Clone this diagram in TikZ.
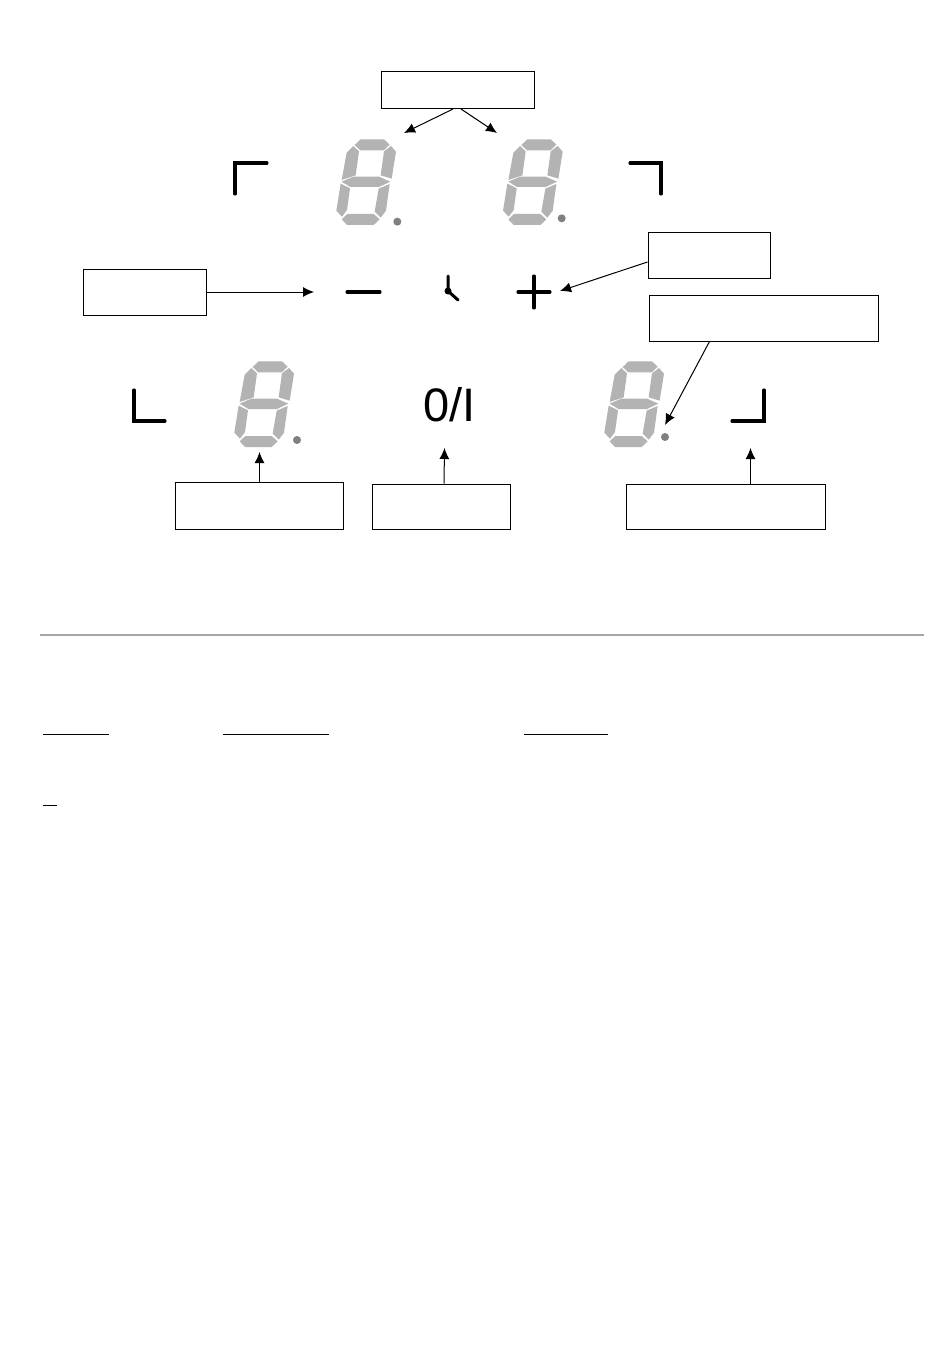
\documentclass[tikz,border=0pt]{standalone}
\usepackage{fontspec}
\setmainfont{Liberation Sans}
\usetikzlibrary{arrows.meta}
\definecolor{seggrey}{HTML}{B3B3B3}
\definecolor{dotgrey}{HTML}{808080}
\definecolor{rulegrey}{HTML}{A6A6A6}
\tikzset{
  callout/.style={draw=black,line width=1pt,fill=white,inner sep=0pt},
  pointer/.style={draw=black,line width=1pt,-{Latex[length=11pt,width=10pt]}},
  symbolstroke/.style={draw=black,line width=3.1pt,line cap=round,line join=miter},
  underline/.style={draw=black,line width=1.8pt},
  segment/.style={fill=seggrey,draw=none},
  dotmark/.style={fill=dotgrey,draw=none}
}
\newcommand{\sevenseg}[4]{%
  \begin{scope}[shift={(#1,#2)},scale=1/3]
    \fill[segment] (104,255)--(122,238)--(192,238)--(209,254)--(191,271)--(121,271)--cycle;
    \fill[segment] (80,278)--(100,258)--(117,274)--(107,346)--(65,360)--cycle;
    \fill[segment] (213,258)--(228,275)--(215,356)--(182,346)--(192,274)--cycle;
    \fill[segment] (65,365)--(100,350)--(177,350)--(211,365)--(177,381)--(91,381)--cycle;
    \fill[segment] (62,371)--(90,385)--(81,450)--(66,470)--(49,452)--cycle;
    \fill[segment] (209,372)--(198,452)--(182,473)--(164,455)--(176,386)--cycle;
    \fill[segment] (65,478)--(82,462)--(161,462)--(179,478)--(161,495)--(81,495)--cycle;
    \fill[dotmark] (#3,#4) circle (12);
  \end{scope}}
\begin{document}
\begin{tikzpicture}[x=1pt,y=-1pt]
\useasboundingbox (0,0) rectangle (950,1370);
\fill[white] (0,0) rectangle (950,1370);
% displays
\sevenseg{320}{60}{232}{485}
\sevenseg{486.7}{60}{225}{475}
\sevenseg{218}{282}{237}{474}
\sevenseg{588}{282}{231}{465}
% corner marks
\draw[symbolstroke] (235,194)--(235,163)--(267,163);
\draw[symbolstroke] (630,163)--(661,163)--(661,194);
\draw[symbolstroke] (134,390)--(134,421)--(165,421);
\draw[symbolstroke] (764,390)--(764,421)--(732,421);
% control symbols
\draw[symbolstroke] (347,292)--(380,292);
\draw[symbolstroke] (518,292)--(550,292);
\draw[symbolstroke] (534,276)--(534,308);
\draw[draw=black,line width=3pt,line cap=round] (448,276)--(448,291)--(458,300);
\fill[black] (448,291) circle (3.5);
\node[inner sep=0pt,font=\fontsize{47}{47}\selectfont] (onoff) at (449.5,405) {0/I};
% callout boxes
\node[callout,minimum width=153pt,minimum height=37pt] (btop) at (457.5,90) {};
\node[callout,minimum width=123pt,minimum height=46pt] (bleft) at (144.5,292) {};
\node[callout,minimum width=122pt,minimum height=46pt] (bright) at (709,255) {};
\node[callout,minimum width=229pt,minimum height=46pt] (bwide) at (764,318) {};
\node[callout,minimum width=168pt,minimum height=47pt] (bb1) at (259,505.5) {};
\node[callout,minimum width=138pt,minimum height=45pt] (bb2) at (441,506.5) {};
\node[callout,minimum width=199pt,minimum height=45pt] (bb3) at (725.5,506.5) {};
% arrow targets
\coordinate (t1) at (404,133);
\coordinate (t2) at (497,133);
\coordinate (t3) at (314,292);
\coordinate (t4) at (560,291);
\coordinate (t5) at (665,425);
\coordinate (t6) at (259.5,452);
\coordinate (t7) at (444.5,448);
\coordinate (t8) at (750.5,448);
% connectors
\draw[pointer] ([xshift=-4.5pt]btop.south) -- (t1);
\draw[pointer] ([xshift=3.5pt]btop.south) -- (t2);
\draw[pointer] (bleft.east) -- (t3);
\draw[pointer] ([yshift=-7pt]bright.west) -- (t4);
\draw[pointer] ([xshift=-54.5pt]bwide.south) -- (t5);
\draw[pointer] ([xshift=.5pt]bb1.north) -- (t6);
\draw[pointer] ([xshift=3pt]bb2.north) -- (t7);
\draw[pointer] ([xshift=25pt]bb3.north) -- (t8);
% lower part
\coordinate (ruleL) at (40,635);
\coordinate (ruleR) at (924,635);
\draw[draw=rulegrey,line width=2pt] (ruleL)--(ruleR);
\draw[underline] (43,734.5)--(109,734.5);
\draw[underline] (223,734.5)--(329,734.5);
\draw[underline] (524,734.5)--(608,734.5);
\draw[underline] (43,805.5)--(57,805.5);
\end{tikzpicture}
\end{document}
